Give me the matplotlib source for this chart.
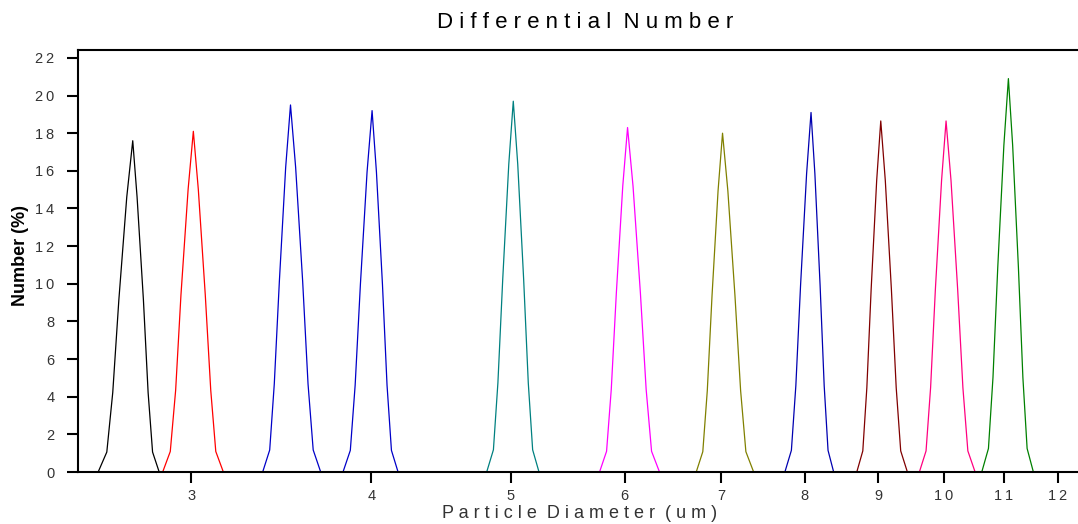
import matplotlib
matplotlib.use('Agg')
import matplotlib.pyplot as plt
from matplotlib.ticker import FixedLocator, FixedFormatter, NullLocator

plt.rcParams['font.family'] = ['Liberation Sans', 'DejaVu Sans']

# --- peaks: particle diameter (um) and number (%)
d_27 = [2.584, 2.620, 2.645, 2.671, 2.705, 2.731, 2.750, 2.778, 2.799, 2.819, 2.849]
n_27 = [0, 1.06, 4.22, 9.15, 14.61, 17.6, 14.61, 9.15, 4.22, 1.06, 0]

d_30 = [2.865, 2.900, 2.925, 2.950, 2.984, 3.009, 3.033, 3.067, 3.094, 3.119, 3.157]
n_30 = [0, 1.09, 4.34, 9.41, 15.02, 18.1, 15.02, 9.41, 4.34, 1.09, 0]

d_35 = [3.362, 3.400, 3.425, 3.453, 3.488, 3.515, 3.544, 3.584, 3.615, 3.645, 3.689]
n_35 = [0, 1.17, 4.68, 10.14, 16.19, 19.5, 16.19, 10.14, 4.68, 1.17, 0]

d_40 = [3.823, 3.868, 3.898, 3.931, 3.973, 4.005, 4.033, 4.072, 4.102, 4.131, 4.175]
n_40 = [0, 1.15, 4.61, 9.98, 15.94, 19.2, 15.94, 9.98, 4.61, 1.15, 0]

d_50 = [4.811, 4.863, 4.898, 4.936, 4.984, 5.020, 5.056, 5.104, 5.142, 5.178, 5.231]
n_50 = [0, 1.18, 4.73, 10.24, 16.35, 19.7, 16.35, 10.24, 4.73, 1.18, 0]

d_60 = [5.763, 5.828, 5.872, 5.920, 5.981, 6.027, 6.080, 6.152, 6.209, 6.263, 6.343]
n_60 = [0, 1.10, 4.39, 9.52, 15.19, 18.3, 15.19, 9.52, 4.39, 1.10, 0]

d_70 = [6.727, 6.798, 6.847, 6.899, 6.966, 7.016, 7.076, 7.157, 7.222, 7.283, 7.374]
n_70 = [0, 1.08, 4.32, 9.36, 14.94, 18.0, 14.94, 9.36, 4.32, 1.08, 0]

d_80 = [7.752, 7.833, 7.889, 7.949, 8.026, 8.083, 8.133, 8.201, 8.255, 8.306, 8.381]
n_80 = [0, 1.15, 4.58, 9.93, 15.85, 19.1, 15.85, 9.93, 4.58, 1.15, 0]

d_90 = [8.697, 8.781, 8.838, 8.899, 8.978, 9.037, 9.103, 9.192, 9.263, 9.330, 9.430]
n_90 = [0, 1.12, 4.48, 9.70, 15.48, 18.65, 15.48, 9.70, 4.48, 1.12, 0]

d_100 = [9.613, 9.716, 9.787, 9.862, 9.960, 10.032, 10.112, 10.220, 10.306, 10.388, 10.509]
n_100 = [0, 1.12, 4.48, 9.70, 15.48, 18.65, 15.48, 9.70, 4.48, 1.12, 0]

d_110 = [10.622, 10.736, 10.814, 10.897, 11.004, 11.084, 11.160, 11.263, 11.344, 11.421, 11.536]
n_110 = [0, 1.25, 5.02, 10.87, 17.35, 20.9, 17.35, 10.87, 5.02, 1.25, 0]

x_ticks = [3, 4, 5, 6, 7, 8, 9, 10, 11, 12]
y_ticks = [0, 2, 4, 6, 8, 10, 12, 14, 16, 18, 20, 22]

curves = [(d_27, n_27, '#000000'), (d_30, n_30, '#ff0000'), (d_35, n_35, '#0000c8'),
          (d_40, n_40, '#0000c8'), (d_50, n_50, '#008080'), (d_60, n_60, '#ff00ff'),
          (d_70, n_70, '#808000'), (d_80, n_80, '#0000b0'), (d_90, n_90, '#800000'),
          (d_100, n_100, '#ff0080'), (d_110, n_110, '#008000')]


def spaced(text, gap=' '):
    # letter spacing like the original software output
    return '  '.join(gap.join(word) for word in text.split(' '))


fig = plt.figure(figsize=(10.78, 5.24), dpi=100)
ax = fig.add_axes([78 / 1078, 52 / 524, 1013 / 1078, 422 / 524])

for d, n, c in curves:
    ax.plot(d, n, color=c, linewidth=0.9)

ax.set_xscale('log')
ax.set_xlim(2.502, 12.65)
ax.set_ylim(0, 22.42)

ax.xaxis.set_major_locator(FixedLocator(x_ticks))
ax.xaxis.set_major_formatter(FixedFormatter([spaced(str(t), '\u2009') for t in x_ticks]))
ax.xaxis.set_minor_locator(NullLocator())
ax.yaxis.set_major_locator(FixedLocator(y_ticks))
ax.yaxis.set_major_formatter(FixedFormatter([spaced(str(t), '\u2009') for t in y_ticks]))

for side in ['left', 'bottom', 'top']:
    ax.spines[side].set_linewidth(1.5)
ax.spines['right'].set_visible(False)
ax.tick_params(axis='both', direction='out', length=8, width=1.5,
               labelsize=10.5, labelcolor='#333333')
ax.tick_params(axis='y', pad=9)
ax.tick_params(axis='x', pad=4)

fig.text(585 / 1078, 1 - 22 / 524, spaced('Differential Number'), ha='center', va='center',
         fontsize=16, color='#000000')
fig.text(580 / 1078, 1 - 513 / 524, spaced('Particle Diameter (um)'), ha='center', va='center',
         fontsize=13, color='#333333')
fig.text(21 / 1078, 1 - 256 / 524, 'Number (%)', rotation=90, ha='center', va='center',
         fontsize=13, fontweight='bold', color='#000000')

fig.savefig('out.png', dpi=100)
